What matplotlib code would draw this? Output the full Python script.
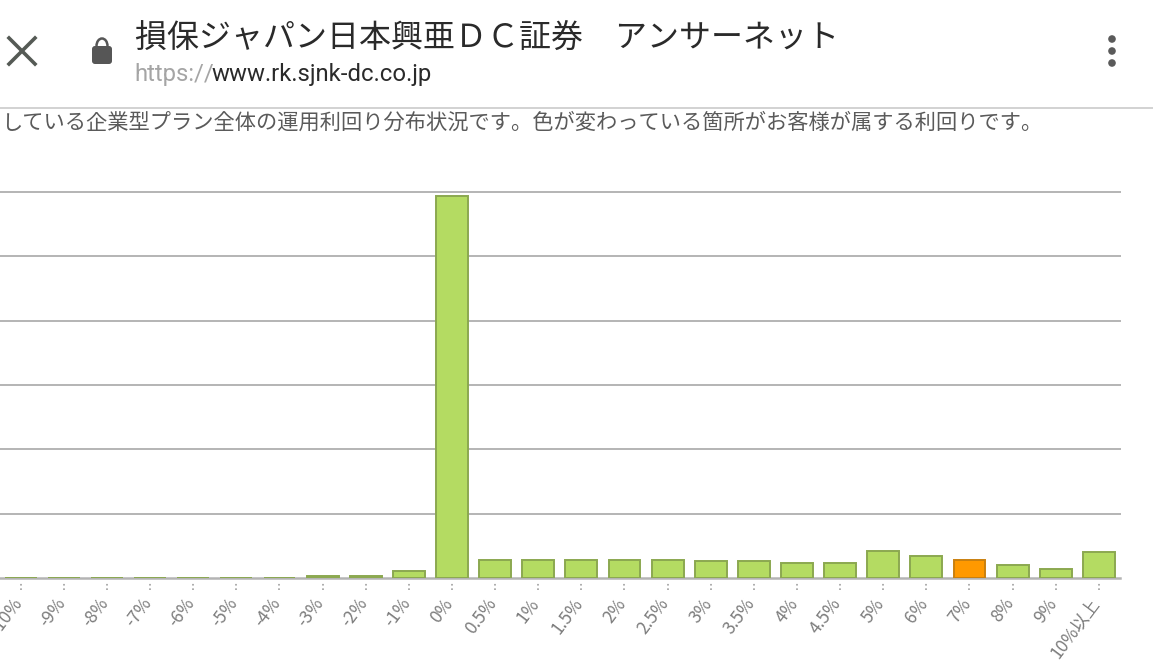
import matplotlib
matplotlib.use('Agg')
import matplotlib.pyplot as plt
from matplotlib.patches import FancyBboxPatch, Arc, Circle
from matplotlib.transforms import ScaledTranslation

plt.rcParams['font.family'] = ['Noto Sans CJK JP', 'DejaVu Sans']

categories = ['-10%', '-9%', '-8%', '-7%', '-6%', '-5%', '-4%', '-3%', '-2%', '-1%',
              '0%', '0.5%', '1%', '1.5%', '2%', '2.5%', '3%', '3.5%', '4%', '4.5%',
              '5%', '6%', '7%', '8%', '9%', '10%以上']
values = [0.05, 0.05, 0.05, 0.05, 0.05, 0.05, 0.05, 0.3, 0.3, 1.1,
          59.4, 2.8, 2.8, 2.8, 2.8, 2.8, 2.6, 2.6, 2.3, 2.3,
          4.2, 3.4, 2.8, 2.0, 1.4, 4.0]
highlight = '7%'
grid_values = [10, 20, 30, 40, 50, 60]

title = '損保ジャパン日本興亜ＤＣ証券　アンサーネット'
url_scheme = 'https://'
url_host = 'www.rk.sjnk-dc.co.jp'
note = 'している企業型プラン全体の運用利回り分布状況です。色が変わっている箇所がお客様が属する利回りです。'

W, H = 1153, 667
fig = plt.figure(figsize=(W / 100, H / 100), dpi=100, facecolor='white')

# chart, placed in pixel positions of the screenshot
ax = fig.add_axes([0, (H - 578) / H, 1120 / W, (578 - 192) / H])
xs = list(range(len(categories)))
colors = ['#ff9900' if c == highlight else '#b4db62' for c in categories]
edges = ['#c9800f' if c == highlight else '#8ba850' for c in categories]
ax.bar(xs, values, width=0.74, color=colors, edgecolor=edges, linewidth=1.4, zorder=3)
ax.set_xlim(-0.48, 25.49)
ax.set_ylim(0, 60)
ax.set_yticks(grid_values)
ax.tick_params(axis='y', length=0, labelleft=False)
ax.grid(axis='y', color='#b4b4b4', linewidth=1.4, zorder=0)
for line in ax.get_ygridlines():
    line.set_clip_on(False)
for s in ['top', 'left', 'right']:
    ax.spines[s].set_visible(False)
ax.spines['bottom'].set_color('#b4b4b4')
ax.spines['bottom'].set_linewidth(1.8)
ax.spines['bottom'].set_zorder(2)

ax.set_xticks(xs)
ax.set_xticklabels(categories, rotation=53, ha='right', va='center', rotation_mode='anchor',
                   fontsize=12.5, color='#7d7d7d')
ax.tick_params(axis='x', length=0, pad=16)
shift = ScaledTranslation(-2 / 100, 0, fig.dpi_scale_trans)
for label in ax.get_xticklabels():
    label.set_transform(label.get_transform() + shift)
ax.vlines(xs, -1.9, -0.8, colors='#a0a0a0', linestyles=':', linewidth=1.2, clip_on=False)

# browser header on top, in pixel coordinates
top = fig.add_axes([0, 0, 1, 1], facecolor='none')
top.set_xlim(0, W)
top.set_ylim(H, 0)
top.axis('off')
top.plot([9, 35], [38, 64], color='#555a55', linewidth=2.6)
top.plot([9, 35], [64, 38], color='#555a55', linewidth=2.6)
top.add_patch(FancyBboxPatch((92, 46), 20, 18, boxstyle='round,pad=0,rounding_size=3',
                             facecolor='#565656', edgecolor='none'))
top.add_patch(Arc((102, 46), 11, 15, theta1=180, theta2=360, color='#565656', linewidth=1.8))
for y in [39, 51, 63]:
    top.add_patch(Circle((1112, y), 3.8, facecolor='#5a5a5a', edgecolor='none'))
top.text(135, 38, title, fontsize=23, color='#2a2a2a', va='center', ha='left')
top.text(134, 74, url_scheme, fontsize=17.2, color='#a5a5a5', va='center', ha='left', family='Roboto')
top.text(212, 74, url_host, fontsize=17.2, color='#2a2a2a', va='center', ha='left', family='Roboto')
top.plot([0, W], [107.5, 107.5], color='#cfcfcf', linewidth=1.3)
top.text(2, 123, note, fontsize=15.3, color='#5a5a5a', va='center', ha='left')

fig.savefig('out.png', dpi=100)
